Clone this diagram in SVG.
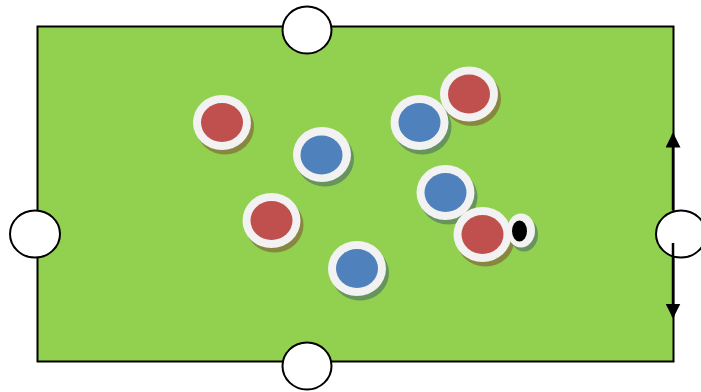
<svg xmlns="http://www.w3.org/2000/svg" width="701" height="392" viewBox="0 0 701 392">
<defs>
<style>
.ring{fill:#F2F2F2}
.red{fill:#C0504D}
.blue{fill:#4F81BD}
.shr{fill:#857A3C;opacity:0.85}
.shb{fill:#5E8A5E;opacity:0.85}
.hole{fill:#FFFFFF;stroke:#000;stroke-width:2}
.conn{stroke:#000;stroke-width:2.5;fill:none}
</style>
<marker id="ah" viewBox="0 0 10 10" refX="9" refY="5" markerWidth="6" markerHeight="6" markerUnits="strokeWidth" orient="auto">
<path d="M0,0 L10,5 L0,10 z" fill="#000"/>
</marker>
</defs>
<g id="field">
<rect x="37.5" y="26.5" width="636" height="335" fill="#92D050" stroke="#000" stroke-width="2"/>
</g>
<g id="holes">
<ellipse id="hole-top" class="hole" cx="307" cy="30" rx="24.5" ry="23.5"/>
<ellipse id="hole-left" class="hole" cx="35" cy="234" rx="25" ry="23.5"/>
<ellipse id="hole-bottom" class="hole" cx="307" cy="366" rx="24.5" ry="23.5"/>
<ellipse id="hole-right" class="hole" cx="681" cy="234" rx="25" ry="23.5"/>
</g>
<g id="connectors">
<line class="conn" x1="673" y1="210" x2="673" y2="134" marker-end="url(#ah)"/>
<line class="conn" x1="673" y1="243" x2="673" y2="317" marker-end="url(#ah)"/>
</g>
<g id="puck-r1"><ellipse class="shr" cx="225" cy="127" rx="29" ry="27.5"/><ellipse class="ring" cx="222" cy="122.5" rx="29" ry="27.5"/><ellipse class="red" cx="222" cy="122.5" rx="21" ry="19.5"/></g>
<g id="puck-b1"><ellipse class="shb" cx="325" cy="159" rx="29" ry="27.5"/><ellipse class="ring" cx="322" cy="154.5" rx="29" ry="27.5"/><ellipse class="blue" cx="321.5" cy="155" rx="21" ry="19.5"/></g>
<g id="puck-b2"><ellipse class="shb" cx="422.5" cy="127" rx="29" ry="27.5"/><ellipse class="ring" cx="419.5" cy="122.5" rx="29" ry="27.5"/><ellipse class="blue" cx="419.5" cy="122.5" rx="21" ry="19.5"/></g>
<g id="puck-r2"><ellipse class="shr" cx="472" cy="98.5" rx="29" ry="27.5"/><ellipse class="ring" cx="469" cy="94" rx="29" ry="27.5"/><ellipse class="red" cx="469" cy="94" rx="21" ry="19.5"/></g>
<g id="puck-b3"><ellipse class="shb" cx="448.5" cy="197" rx="29" ry="27.5"/><ellipse class="ring" cx="445.5" cy="192.5" rx="29" ry="27.5"/><ellipse class="blue" cx="445.5" cy="192.5" rx="21" ry="19.5"/></g>
<g id="puck-r3"><ellipse class="shr" cx="274.5" cy="225" rx="29" ry="27.5"/><ellipse class="ring" cx="271.5" cy="220.5" rx="29" ry="27.5"/><ellipse class="red" cx="271.5" cy="220.5" rx="21" ry="19.5"/></g>
<g id="puck-b4"><ellipse class="shb" cx="360" cy="273" rx="29" ry="27.5"/><ellipse class="ring" cx="357" cy="268.5" rx="29" ry="27.5"/><ellipse class="blue" cx="357" cy="268.5" rx="21" ry="19.5"/></g>
<g id="puck-r4"><ellipse class="shr" cx="485.5" cy="239" rx="29" ry="27.5"/><ellipse class="ring" cx="482.5" cy="234.5" rx="29" ry="27.5"/><ellipse class="red" cx="482.5" cy="234.5" rx="21" ry="19.5"/></g>
<g id="ball"><ellipse class="shb" cx="524" cy="234.5" rx="14" ry="17"/><ellipse class="ring" cx="521" cy="230.5" rx="14" ry="17"/><ellipse fill="#000" cx="519.5" cy="231" rx="7.5" ry="10.5"/></g>
</svg>
